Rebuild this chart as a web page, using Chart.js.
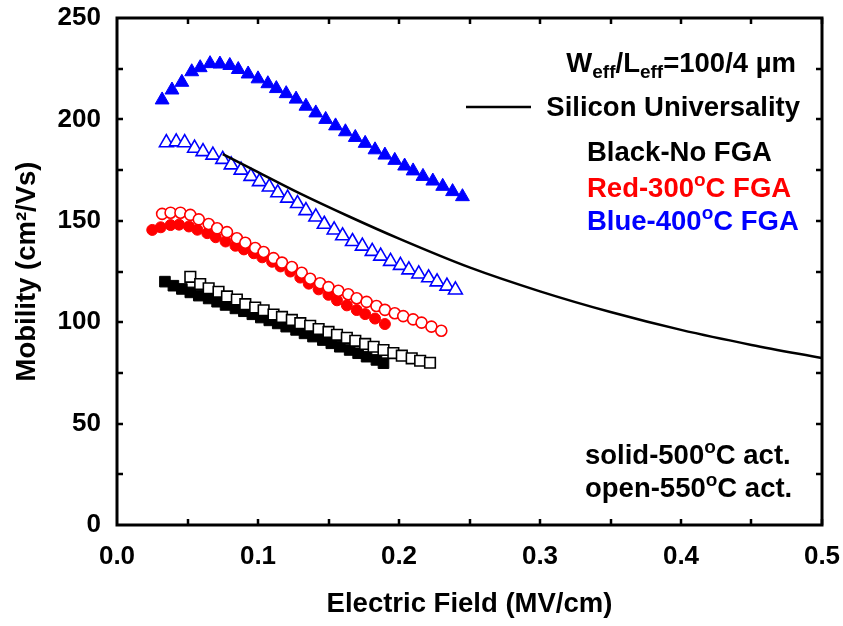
<!DOCTYPE html>
<html>
<head>
<meta charset="utf-8">
<title>Mobility vs Electric Field</title>
<script src="https://cdn.jsdelivr.net/npm/chart.js@4.4.1/dist/chart.umd.min.js"></script>
<style>
    html, body { margin: 0; padding: 0; background: #fff; }
    #wrap { width: 843px; height: 626px; }
</style>
</head>
<body>
<div id="wrap"><canvas id="mobility-chart" width="843" height="626"></canvas></div>
<script>
// Tick values on both axes
const xTicks = [0.0, 0.1, 0.2, 0.3, 0.4, 0.5];
const yTicks = [0, 50, 100, 150, 200, 250];

// 400°C FGA, 500°C activation (filled triangles)
const blue500E = [0.032, 0.039, 0.046, 0.053, 0.059, 0.066, 0.073, 0.080, 0.086, 0.093, 0.100, 0.107, 0.113, 0.120, 0.127, 0.134,
                  0.141, 0.148, 0.155, 0.162, 0.169, 0.176, 0.183, 0.190, 0.197, 0.204, 0.210, 0.217, 0.224, 0.231, 0.238, 0.245];
const blue500Mu = [209.6, 214.5, 218.3, 223.5, 225.5, 227.5, 227.3, 226.6, 224.6, 222.4, 220.0, 217.6, 215.2, 212.7, 210.0, 206.5,
                   203.2, 200.0, 196.8, 193.9, 191.1, 188.2, 185.0, 182.4, 179.8, 177.0, 174.6, 171.9, 169.6, 167.0, 164.4, 161.9];

// 400°C FGA, 550°C activation (open triangles)
const blue550E = [0.035, 0.042, 0.048, 0.055, 0.061, 0.068, 0.075, 0.081, 0.088, 0.095, 0.101, 0.108, 0.114, 0.121, 0.128, 0.134,
                  0.141, 0.147, 0.154, 0.160, 0.167, 0.174, 0.181, 0.187, 0.194, 0.201, 0.207, 0.214, 0.221, 0.227, 0.234, 0.240];
const blue550Mu = [188.5, 188.9, 188.5, 185.8, 184.1, 182.4, 180.3, 177.6, 175.0, 171.9, 169.3, 166.7, 163.8, 161.2, 158.5, 155.0,
                   151.9, 148.3, 145.5, 142.6, 139.8, 137.5, 134.9, 132.6, 130.0, 128.0, 125.8, 123.8, 121.9, 119.9, 117.8, 115.9];

// 300°C FGA, 500°C activation (filled circles)
const red500E = [0.025, 0.031, 0.038, 0.044, 0.051, 0.057, 0.064, 0.070, 0.077, 0.084, 0.090, 0.097, 0.103,
                 0.110, 0.116, 0.123, 0.130, 0.136, 0.143, 0.150, 0.156, 0.163, 0.170, 0.176, 0.183, 0.190];
const red500Mu = [145.5, 146.8, 147.9, 148.1, 147.2, 145.6, 143.9, 141.9, 139.8, 137.7, 135.9, 134.0, 132.0,
                  129.8, 127.5, 125.0, 122.0, 119.0, 116.2, 113.5, 110.8, 108.3, 106.0, 104.0, 101.8, 99.1];

// 300°C FGA, 550°C activation (open circles)
const red550E = [0.032, 0.038, 0.045, 0.052, 0.058, 0.065, 0.071, 0.078, 0.085, 0.091, 0.098, 0.104, 0.111, 0.117, 0.124, 0.131,
                 0.137, 0.144, 0.150, 0.157, 0.164, 0.170, 0.177, 0.184, 0.190, 0.197, 0.203, 0.210, 0.216, 0.223, 0.230];
const red550Mu = [153.4, 154.0, 154.0, 152.9, 150.7, 148.4, 146.3, 144.4, 141.4, 139.2, 136.6, 134.6, 131.6, 129.4, 127.2, 124.4,
                  121.4, 119.2, 117.3, 115.5, 113.8, 111.8, 110.0, 108.0, 106.1, 104.4, 103.0, 101.4, 99.8, 97.8, 95.8];

// No FGA, 500°C activation (filled squares)
const black500E = [0.034, 0.040, 0.046, 0.052, 0.058, 0.065, 0.071, 0.077, 0.084, 0.090, 0.096, 0.102, 0.108,
                   0.114, 0.120, 0.127, 0.133, 0.139, 0.146, 0.152, 0.158, 0.165, 0.171, 0.177, 0.184, 0.189];
const black500Mu = [120.0, 118.0, 116.4, 114.7, 113.1, 111.7, 110.1, 108.5, 106.8, 105.4, 103.9, 102.3, 100.9,
                    99.4, 97.8, 96.2, 94.5, 92.9, 91.2, 89.6, 87.9, 86.3, 84.7, 83.0, 81.4, 79.8];

// No FGA, 550°C activation (open squares)
const black550E = [0.052, 0.059, 0.065, 0.072, 0.078, 0.085, 0.091, 0.098, 0.104, 0.111, 0.117, 0.124, 0.130, 0.137,
                   0.143, 0.150, 0.156, 0.163, 0.169, 0.176, 0.182, 0.189, 0.196, 0.202, 0.209, 0.215, 0.222];
const black550Mu = [122.4, 118.8, 116.7, 115.0, 112.7, 111.2, 108.9, 107.2, 105.9, 103.8, 102.6, 101.1, 99.5, 98.2,
                    96.6, 95.2, 93.8, 92.3, 90.8, 89.3, 87.9, 86.3, 84.8, 83.5, 82.2, 81.0, 80.0];

// Silicon universal mobility curve
const siliconE = [0.075, 0.10, 0.13, 0.165, 0.20, 0.25, 0.30, 0.35, 0.40, 0.45, 0.50];
const siliconMu = [182.9, 174.0, 163.4, 152.0, 141.2, 127.0, 115.2, 105.0, 96.2, 88.8, 82.3];

const BLUE = '#0000ff';
const RED = '#ff0000';
const BLACK = '#000000';
const FONT = '"Liberation Sans", Arial, Helvetica, sans-serif';

function toPoints(xs, ys) {
    return xs.map((x, i) => ({ x: x, y: ys[i] }));
}

// filled marker series
function solidSet(label, xs, ys, color, style, radius) {
    return {
        label, data: toPoints(xs, ys),
        pointStyle: style, pointRadius: radius,
        backgroundColor: color, borderColor: color, borderWidth: 1,
        showLine: false
    };
}

// open marker series (white inside so they cover the filled ones)
function openSet(label, xs, ys, color, style, radius) {
    return {
        label, data: toPoints(xs, ys),
        pointStyle: style, pointRadius: radius,
        backgroundColor: '#ffffff', borderColor: color, borderWidth: 1.6,
        showLine: false
    };
}

// text blocks drawn inside the plot; each run: [text, '' | 'sub' | 'sup']
const notes = [
    { x: 796, y: 72, align: 'right', color: BLACK, runs: [['W', ''], ['eff', 'sub'], ['/L', ''], ['eff', 'sub'], ['=100/4 \u00b5m', '']] },
    { x: 800, y: 116, align: 'right', color: BLACK, runs: [['Silicon Universality', '']] },
    { x: 587, y: 161, align: 'left', color: BLACK, runs: [['Black-No FGA', '']] },
    { x: 587, y: 197, align: 'left', color: RED, runs: [['Red-300', ''], ['o', 'sup'], ['C FGA', '']] },
    { x: 587, y: 230, align: 'left', color: BLUE, runs: [['Blue-400', ''], ['o', 'sup'], ['C FGA', '']] },
    { x: 585, y: 464, align: 'left', color: BLACK, runs: [['solid-500', ''], ['o', 'sup'], ['C act.', '']] },
    { x: 585, y: 497, align: 'left', color: BLACK, runs: [['open-550', ''], ['o', 'sup'], ['C act.', '']] }
];

const runFont = kind => kind ? `bold 19px ${FONT}` : `bold 27.5px ${FONT}`;
const runShift = kind => kind === 'sub' ? 6 : (kind === 'sup' ? -11 : 0);

function drawRuns(ctx, note) {
    let width = 0;
    note.runs.forEach(([t, k]) => { ctx.font = runFont(k); width += ctx.measureText(t).width; });
    let x = note.align === 'right' ? note.x - width : note.x;
    ctx.fillStyle = note.color;
    ctx.textAlign = 'left';
    ctx.textBaseline = 'alphabetic';
    note.runs.forEach(([t, k]) => {
        ctx.font = runFont(k);
        ctx.fillText(t, x, note.y + runShift(k));
        x += ctx.measureText(t).width;
    });
}

// scales keep no extra room of their own; layout.padding sets the plot box
function noScalePadding(scale) {
    scale.paddingLeft = 0;
    scale.paddingRight = 0;
    scale.paddingTop = 0;
    scale.paddingBottom = 0;
}

// frame, inward ticks and the annotation texts
const framePlugin = {
    id: 'frame',
    afterDatasetsDraw(chart) {
        const { ctx, chartArea: a, scales } = chart;
        const xs = scales.x, ys = scales.y;
        const tick = 6;
        ctx.save();
        ctx.strokeStyle = BLACK;
        ctx.lineWidth = 2.5;
        ctx.lineCap = 'butt';
        ctx.beginPath();
        for (let v = 0.05; v < 0.5; v += 0.05) {
            const px = Math.round(xs.getPixelForValue(v));
            ctx.moveTo(px, a.bottom); ctx.lineTo(px, a.bottom - tick);
            ctx.moveTo(px, a.top); ctx.lineTo(px, a.top + tick);
        }
        for (let v = 25; v < 250; v += 25) {
            const py = Math.round(ys.getPixelForValue(v));
            ctx.moveTo(a.left, py); ctx.lineTo(a.left + tick, py);
            ctx.moveTo(a.right, py); ctx.lineTo(a.right - tick, py);
        }
        ctx.stroke();

        ctx.lineWidth = 3;
        ctx.strokeRect(a.left, a.top, a.right - a.left, a.bottom - a.top);

        // legend sample for the universality curve
        ctx.lineWidth = 2.5;
        ctx.beginPath();
        ctx.moveTo(466, 107);
        ctx.lineTo(531, 107);
        ctx.stroke();

        notes.forEach(n => drawRuns(ctx, n));
        ctx.restore();
    }
};

const ctx = document.getElementById('mobility-chart').getContext('2d');

new Chart(ctx, {
    type: 'scatter',
    data: {
        datasets: [
            {
                label: 'Silicon Universality',
                data: toPoints(siliconE, siliconMu),
                showLine: true,
                borderColor: BLACK,
                borderWidth: 2.5,
                pointRadius: 0,
                cubicInterpolationMode: 'monotone',
                fill: false
            },
            openSet('Blue-400°C FGA, 550°C act.', blue550E, blue550Mu, BLUE, 'triangle', 8),
            openSet('Red-300°C FGA, 550°C act.', red550E, red550Mu, RED, 'circle', 5.5),
            openSet('Black-No FGA, 550°C act.', black550E, black550Mu, BLACK, 'rect', 7.5),
            solidSet('Blue-400°C FGA, 500°C act.', blue500E, blue500Mu, BLUE, 'triangle', 8),
            solidSet('Red-300°C FGA, 500°C act.', red500E, red500Mu, RED, 'circle', 5.5),
            solidSet('Black-No FGA, 500°C act.', black500E, black500Mu, BLACK, 'rect', 7.5)
        ]
    },
    options: {
        responsive: false,
        animation: false,
        devicePixelRatio: 1,
        layout: { padding: { left: 0, top: 18, right: 21, bottom: 0 } },
        plugins: {
            legend: { display: false },
            tooltip: { enabled: false }
        },
        scales: {
            x: {
                type: 'linear',
                min: 0,
                max: 0.5,
                grid: { display: false, drawTicks: false },
                border: { display: false },
                afterBuildTicks: scale => { scale.ticks = xTicks.map(v => ({ value: v })); },
                afterFit: scale => { scale.height = 101; noScalePadding(scale); },
                ticks: {
                    padding: 16,
                    color: BLACK,
                    font: { family: FONT, size: 26, weight: 'bold' },
                    callback: v => Number(v).toFixed(1)
                },
                title: {
                    display: true,
                    text: 'Electric Field (MV/cm)',
                    color: BLACK,
                    font: { family: FONT, size: 27.5, weight: 'bold' },
                    padding: { top: 0, bottom: 5 }
                }
            },
            y: {
                type: 'linear',
                min: 0,
                max: 250,
                grid: { display: false, drawTicks: false },
                border: { display: false },
                afterBuildTicks: scale => { scale.ticks = yTicks.map(v => ({ value: v })); },
                afterFit: scale => { scale.width = 117; noScalePadding(scale); },
                ticks: {
                    padding: 16,
                    color: BLACK,
                    font: { family: FONT, size: 26, weight: 'bold' }
                },
                title: {
                    display: true,
                    text: 'Mobility (cm\u00b2/Vs)',
                    color: BLACK,
                    font: { family: FONT, size: 27.5, weight: 'bold' },
                    padding: { top: 11, bottom: 0 }
                }
            }
        }
    },
    plugins: [framePlugin]
});
</script>
</body>
</html>
